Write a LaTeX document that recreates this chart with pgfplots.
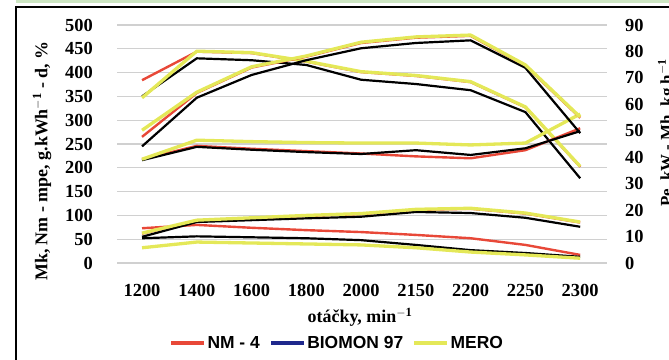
\documentclass[border=0pt]{standalone}
\usepackage{pgfplots}
\pgfplotsset{compat=1.18}
\usepackage{fontspec}
\setmainfont{Liberation Serif}
\setsansfont{Liberation Sans}
\definecolor{cred}{RGB}{232,72,56}
\definecolor{cyel}{RGB}{228,232,88}
\definecolor{cblue}{RGB}{30,40,140}
\definecolor{cgrid}{RGB}{208,208,208}
\definecolor{cgreen}{RGB}{205,230,195}
\pgfplotsset{
  rl/.style={cred, line width=2.4bp, line join=round, forget plot},
  bl/.style={black, line width=2.2bp, line join=round, forget plot},
  yl/.style={cyel, line width=3.3bp, line join=round, forget plot},
  common/.style={
    at={(0,0)}, anchor=south west, scale only axis, width=490bp, height=238bp,
    xmin=-0.457, xmax=8.49, axis line style={draw=none}, major tick length=0pt,
    /pgf/number format/assume math mode=true,
    tick label style={font=\bfseries\fontsize{18.5}{21}\selectfont},
    label style={font=\bfseries\fontsize{18}{21}\selectfont},
  },
}
\begin{document}
\begin{tikzpicture}
\useasboundingbox (-117bp,-97bp) rectangle (552bp,263bp);
\fill[cgreen] (-101bp,259.5bp) rectangle (560bp,263bp);
\draw[line width=2.2bp] (-101bp,-120bp) rectangle (580bp,256bp);
\begin{axis}[common,
  ymin=0, ymax=500, ytick={0,50,...,500},
  ymajorgrids, grid style={cgrid, line width=1.3bp},
  xtick={0,...,8}, xticklabels={1200,1400,1600,1800,2000,2150,2200,2250,2300},
  xticklabel style={anchor=north, inner sep=0pt, yshift=-21bp},
  yticklabel style={anchor=east, inner sep=0pt, xshift=-24bp},
  xlabel={otáčky, min$^{\mathbf{-1}}$},
  xlabel style={at={(axis description cs:0.496,0)}, anchor=center, yshift=-54bp},
  legend columns=3,
  legend style={at={(axis description cs:0.449,-0.336)}, anchor=center, draw=none, fill=none,
    font=\sffamily\bfseries\fontsize{17.5}{20}\selectfont, nodes={inner sep=1.5bp},
    /tikz/every even column/.append style={column sep=8bp}},
  legend image code/.code={\draw[line width=3.5bp,#1] (0bp,0bp) -- (33bp,0bp);},
]
\addlegendimage{cred}\addlegendentry{NM - 4}
\addlegendimage{cblue}\addlegendentry{BIOMON 97}
\addlegendimage{cyel}\addlegendentry{MERO}
% Mk (torque), Nm
\addplot[rl] coordinates {(0,384) (1,444) (2,441) (3,423) (4,401) (5,393) (6,380) (7,327) (8,202)};
\addplot[bl] coordinates {(0,350) (1,430) (2,426) (3,416) (4,385) (5,376) (6,363) (7,317) (8,178)};
\addplot[yl] coordinates {(0,347) (1,445) (2,442) (3,424) (4,402) (5,394) (6,381) (7,328) (8,203)};
% mpe, g/kWh
\addplot[rl] coordinates {(0,218) (1,246) (2,240) (3,235) (4,230) (5,224) (6,220) (7,237) (8,283)};
\addplot[bl] coordinates {(0,216) (1,244) (2,238) (3,233) (4,229) (5,237) (6,227) (7,241) (8,277)};
\addplot[yl] coordinates {(0,218) (1,258) (2,255) (3,253) (4,252) (5,252) (6,248) (7,252) (8,313)};
% d, %
\addplot[rl] coordinates {(0,73) (1,80) (2,74) (3,69) (4,65) (5,59) (6,52) (7,38) (8,17)};
\addplot[bl] coordinates {(0,52) (1,56) (2,54) (3,52) (4,48) (5,38) (6,27) (7,21) (8,13)};
\addplot[yl] coordinates {(0,32) (1,44) (2,42) (3,40) (4,38) (5,32) (6,23) (7,17) (8,10)};
\end{axis}
\begin{axis}[common,
  ymin=0, ymax=90, ytick={0,10,...,90},
  axis x line=none, axis y line*=right,
  yticklabel style={anchor=west, inner sep=0pt, xshift=18bp},
]
% Pe, kW
\addplot[rl] coordinates {(0,47.7) (1,64.3) (2,73.9) (3,78.0) (4,83.2) (5,85.2) (6,85.9) (7,74.6) (8,54.9)};
\addplot[bl] coordinates {(0,44.1) (1,62.5) (2,71.1) (3,76.7) (4,81.2) (5,83.2) (6,84.2) (7,73.8) (8,49.1)};
\addplot[yl] coordinates {(0,50.2) (1,64.6) (2,74.2) (3,78.3) (4,83.5) (5,85.5) (6,86.2) (7,74.9) (8,55.2)};
% Mh, kg/h
\addplot[rl] coordinates {(0,11.1) (1,16.0) (2,16.9) (3,17.8) (4,18.5) (5,20.1) (6,20.5) (7,18.7) (8,15.3)};
\addplot[bl] coordinates {(0,9.9) (1,15.5) (2,16.2) (3,16.9) (4,17.5) (5,19.3) (6,18.9) (7,17.1) (8,13.7)};
\addplot[yl] coordinates {(0,11.3) (1,16.2) (2,17.1) (3,18.0) (4,18.7) (5,20.3) (6,20.7) (7,18.9) (8,15.5)};
\end{axis}
\node[rotate=90, anchor=center, font=\bfseries\fontsize{18}{21}\selectfont] at (-75bp,102bp) {Mk, Nm - mpe, g.kWh$^{\mathbf{-1}}$ - d, \%};
\node[rotate=90, anchor=center, font=\bfseries\fontsize{17}{20}\selectfont] at (550bp,130bp) {Pe, kW - Mh, kg.h$^{\mathbf{-1}}$};
\end{tikzpicture}
\end{document}
